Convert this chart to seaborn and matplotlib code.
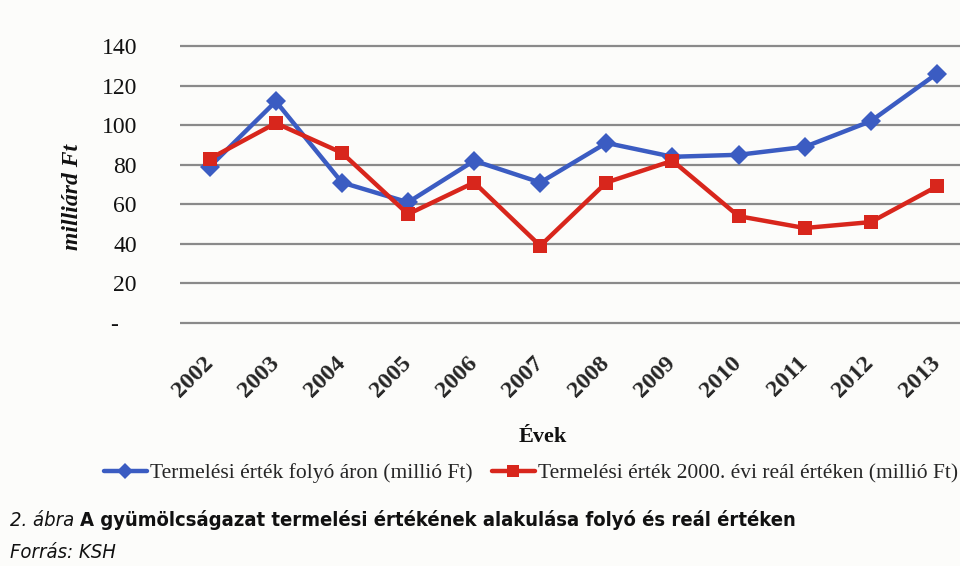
import matplotlib
matplotlib.use("Agg")
import matplotlib.pyplot as plt
import seaborn as sns
import pandas as pd
from matplotlib.lines import Line2D

years = [2002, 2003, 2004, 2005, 2006, 2007, 2008, 2009, 2010, 2011, 2012, 2013]
folyo = [79, 112, 71, 61, 82, 71, 91, 84, 85, 89, 102, 126]
real2000 = [83, 101, 86, 55, 71, 39, 71, 82, 54, 48, 51, 69]
series_names = ["Termelési érték folyó áron (millió Ft)",
                "Termelési érték 2000. évi reál értéken (millió Ft)"]
yticks = [0, 20, 40, 60, 80, 100, 120, 140]
ytick_labels = ["-   ", "20", "40", "60", "80", "100", "120", "140"]

sns.set_theme(style="white")
plt.rcParams["font.family"] = ["Liberation Serif", "DejaVu Serif"]

BLUE = "#3b5cc2"
RED = "#d8261c"
BG = "#fcfcfa"

df = pd.DataFrame({"year": years * 2,
                   "value": folyo + real2000,
                   "series": [series_names[0]] * len(years) + [series_names[1]] * len(years)})

fig = plt.figure(figsize=(9.6, 5.66), dpi=100, facecolor=BG)
ax = fig.add_axes([0.1875, 0.4258, 0.8125, 0.4965])
ax.set_facecolor(BG)

sns.lineplot(data=df, x="year", y="value", hue="series", style="series",
             palette=[BLUE, RED], markers=["D", "s"], dashes=False,
             linewidth=3.2, markersize=10, markeredgewidth=0, ax=ax, legend=False)

ax.set_ylim(-1, 141)
ax.set_xlim(2001.55, 2013.35)
ax.set_yticks(yticks)
ax.set_yticklabels(ytick_labels)
ax.set_xticks(years)
ax.set_xticklabels([str(y) for y in years], rotation=45, ha="right", va="center",
                   rotation_mode="anchor", fontweight="bold")
ax.tick_params(axis="y", length=0, pad=31, labelsize=17)
ax.tick_params(axis="x", length=0, pad=25, labelsize=17.5)
for lab in ax.get_yticklabels():
    lab.set_color("#111111")
ax.yaxis.grid(True, color="#8a8a8a", linewidth=1.6)
ax.xaxis.grid(False)
for s in ax.spines.values():
    s.set_visible(False)
ax.set_xlabel("")
ax.set_ylabel("")

fig.text(72 / 960, 1 - 197 / 566, "milliárd Ft", rotation=90, ha="center", va="center",
         fontsize=17, fontweight="bold", fontstyle="italic", color="#111111")
fig.text(543 / 960, 1 - 437 / 566, "Évek", ha="center", va="center",
         fontsize=16, fontweight="bold", color="#111111")

handles = [Line2D([], [], color=BLUE, marker="D", markersize=8, linewidth=3.2, markeredgewidth=0),
           Line2D([], [], color=RED, marker="s", markersize=8, linewidth=3.2, markeredgewidth=0)]
fig.legend(handles, series_names, loc="center", bbox_to_anchor=(531 / 960, 1 - 473 / 566),
           ncol=2, frameon=False, fontsize=15.5, handlelength=2.0, handletextpad=0.15,
           columnspacing=0.9)

cap_kw = dict(family="DejaVu Sans", fontstretch="condensed", color="#111111")
t1 = fig.text(10 / 960, 1 - 520 / 566, "2. ábra ", ha="left", va="center", fontsize=14.5,
              fontstyle="italic", **cap_kw)
fig.canvas.draw()
ax.annotate("A gyümölcságazat termelési értékének alakulása folyó és reál értéken",
            xy=(1, 0.5), xycoords=t1, ha="left", va="center", fontsize=14.5,
            fontweight="bold", annotation_clip=False, **cap_kw)
fig.text(10 / 960, 1 - 553 / 566, "Forrás: KSH", ha="left", va="center", fontsize=14.5,
         fontstyle="italic", **cap_kw)

fig.savefig("out.png", dpi=100, facecolor=BG)
